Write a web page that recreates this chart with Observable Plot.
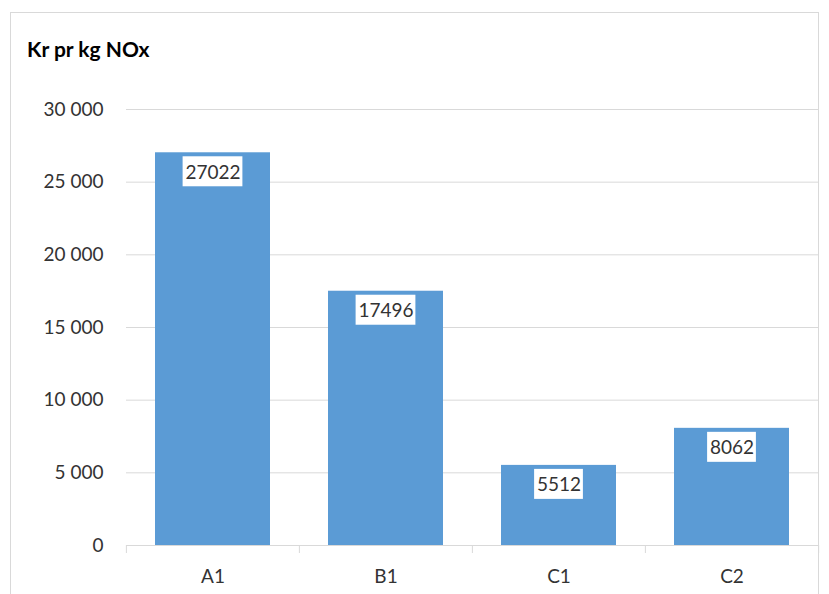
<!DOCTYPE html>
<html><head><meta charset="utf-8">
<script src="https://cdn.jsdelivr.net/npm/d3@7"></script>
<script src="https://cdn.jsdelivr.net/npm/@observablehq/plot@0.6"></script>
<style>
body{margin:0;background:#fff;}
#chart{position:relative;width:829px;height:594px;overflow:hidden;font-family:Lato,"Open Sans",sans-serif;}
#frame{position:absolute;left:10px;top:12px;width:809px;height:640px;border:1px solid #d9d9d9;box-sizing:border-box;pointer-events:none;}
#title{height:80px;box-sizing:border-box;padding:38px 0 0 27px;font-weight:bold;font-size:21px;color:#000;line-height:1;}
</style></head><body>
<div id="chart"><div id="frame"></div><div id="title">Kr pr kg NOx</div></div>
<script>
// Cost per kg NOx for each measure
const categories = ["A1", "B1", "C1", "C2"];
const values = [27022, 17496, 5512, 8062];
const yTicks = [0, 5000, 10000, 15000, 20000, 25000, 30000];

const data = categories.map((c, i) => ({category: c, value: values[i]}));
const fmt = d3.formatLocale({thousands: "\u00a0", grouping: [3], decimal: ","}).format(",d");

const W = 829, H = 514, mL = 126, mR = 10, mT = 29, mB = 49;
const step = (W - mL - mR) / categories.length;
const pad = 0.335;
const bandW = step * (1 - pad);
const bar = "#5B9BD5", grid = "#d9d9d9", ink = "#333333";

const chart = Plot.plot({
  width: W, height: H,
  marginLeft: mL, marginRight: mR, marginTop: mT, marginBottom: mB,
  style: {fontFamily: "Lato, 'Open Sans', sans-serif", color: ink, background: "transparent"},
  x: {domain: categories, paddingInner: pad, paddingOuter: pad / 2, label: null},
  y: {domain: [0, 30000], label: null},
  marks: [
    Plot.gridY(yTicks.slice(1), {stroke: grid, strokeOpacity: 1}),
    Plot.axisY(yTicks, {tickFormat: fmt, tickSize: 0, tickPadding: 23, fontSize: 19, fill: ink, label: null}),
    Plot.axisX({tickSize: 0, tickPadding: 24, fontSize: 19, fill: ink, label: null}),
    Plot.barY(data, {x: "category", y: "value", fill: bar}),
    Plot.ruleY([0], {stroke: grid, strokeOpacity: 1}),
    // category boundary ticks under the baseline
    Plot.ruleX(categories, {x: d => d, y1: 0, y2: 0, insetBottom: -8, dx: -step / 2, stroke: grid, strokeOpacity: 1}),
    Plot.ruleX(categories.slice(-1), {x: d => d, y1: 0, y2: 0, insetBottom: -8, dx: step / 2, stroke: grid, strokeOpacity: 1}),
    // white boxes behind value labels
    Plot.barY(data, {filter: d => String(d.value).length >= 5, x: "category", y1: "value", y2: "value",
      insetBottom: -30, dy: 4, insetLeft: (bandW - 60) / 2, insetRight: (bandW - 60) / 2, fill: "white"}),
    Plot.barY(data, {filter: d => String(d.value).length < 5, x: "category", y1: "value", y2: "value",
      insetBottom: -30, dy: 4, insetLeft: (bandW - 49) / 2, insetRight: (bandW - 49) / 2, fill: "white"}),
    Plot.text(data, {x: "category", y: "value", text: d => String(d.value), dy: 20,
      lineAnchor: "middle", fontSize: 19, fill: ink})
  ]
});
document.getElementById("chart").appendChild(chart);
</script>
</body></html>
